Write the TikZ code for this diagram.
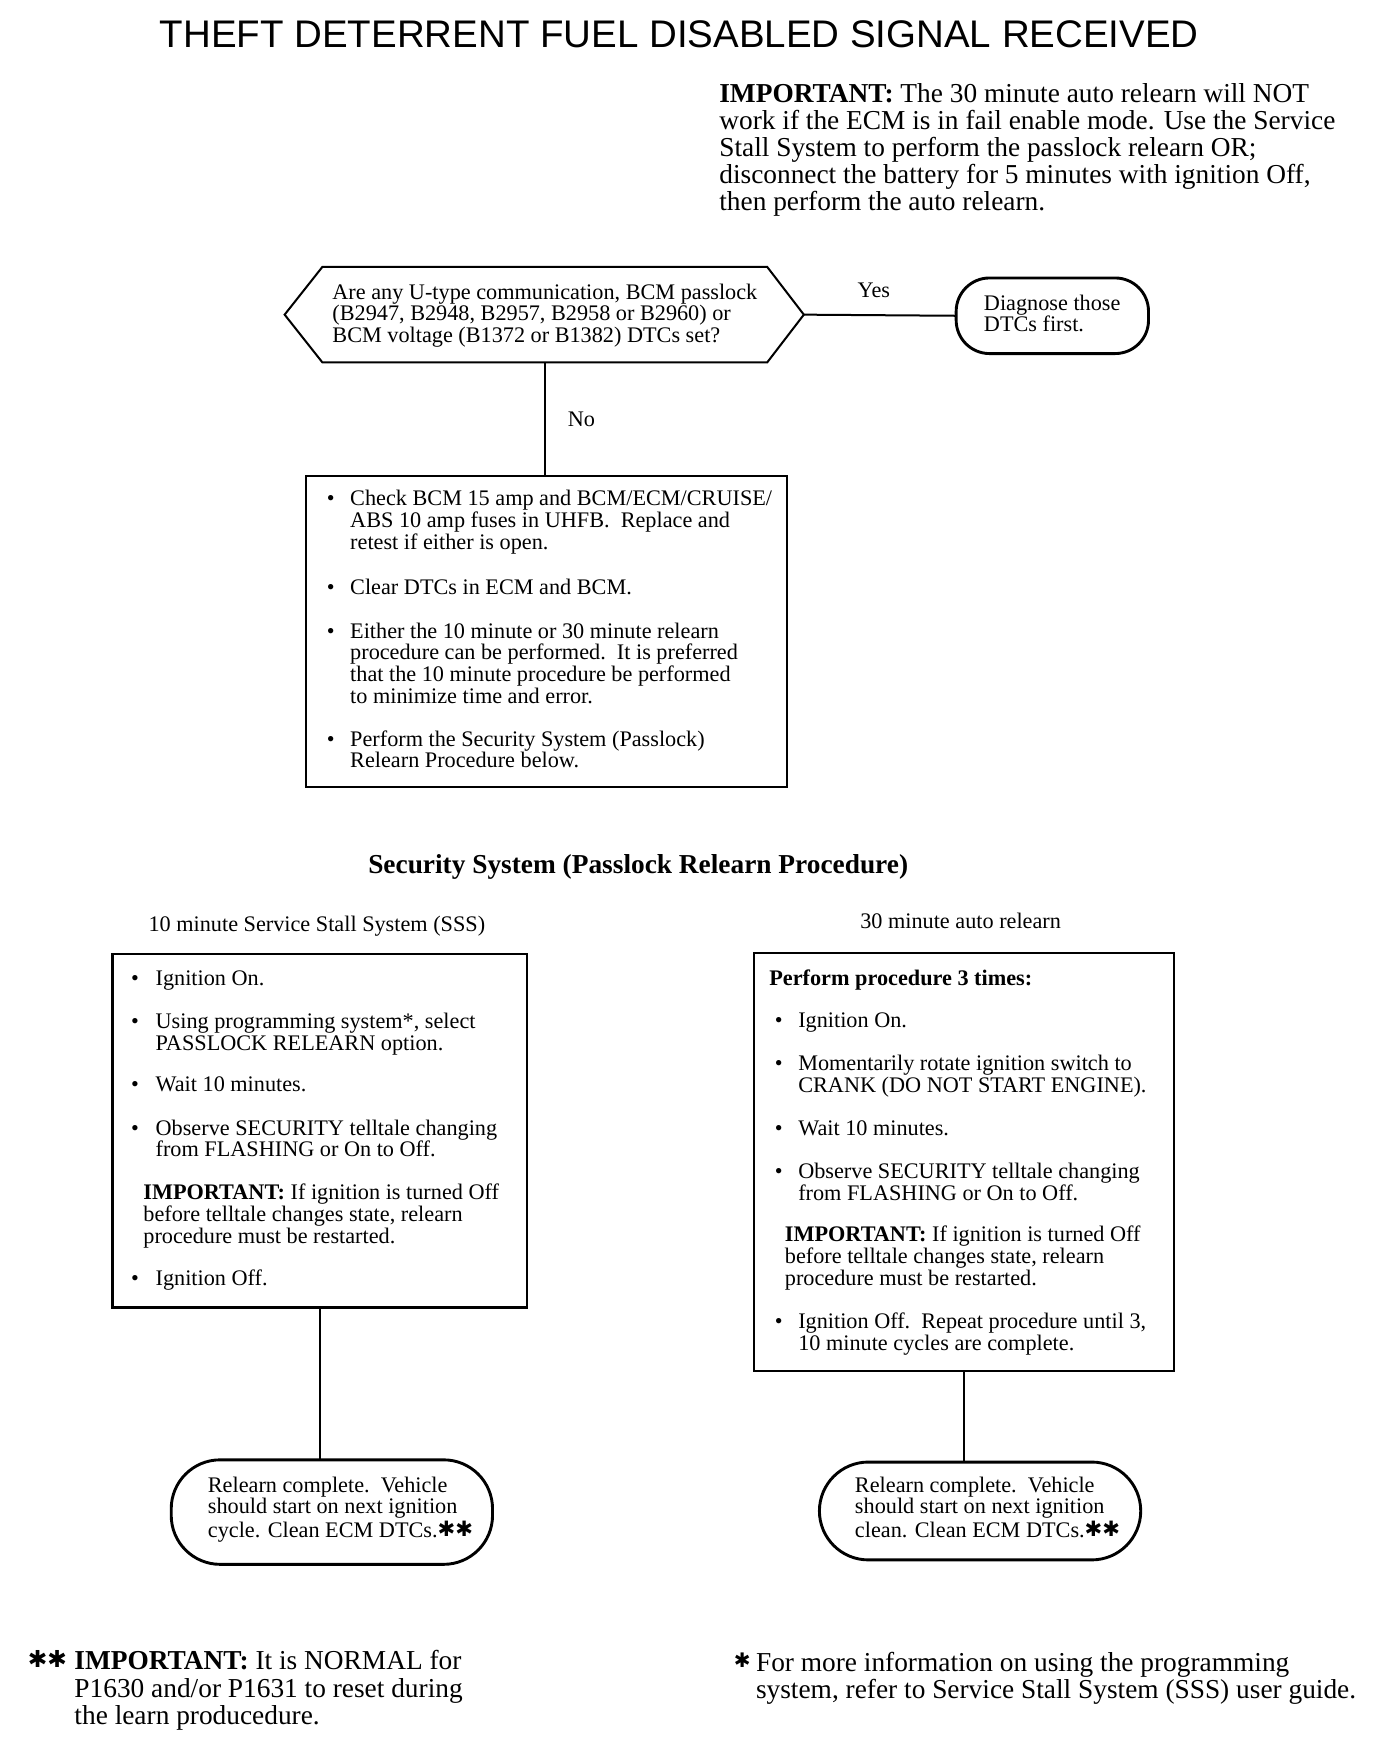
\documentclass[tikz,border=0pt]{standalone}
\usepackage{fontspec}
\setmainfont{Liberation Serif}
\newfontfamily\titlefont{Liberation Sans}
\newfontfamily\starfont{DejaVu Sans}
\newcommand\hvstars[2]{{\starfont\fontsize{#1}{#1}\selectfont\raisebox{#2}{✱✱}}}
\newcommand\hvstar[2]{{\starfont\fontsize{#1}{#1}\selectfont\raisebox{#2}{✱}}}
\newcommand\lns[1]{\vtop{#1}}
\newcommand\tl[1]{\hbox{#1}}
\begin{document}
\begin{tikzpicture}[x=0.5pt,y=-0.5pt,
  every node/.style={inner sep=0pt, outer sep=0pt},
  txt/.style={anchor=base west, font=\fontsize{10}{9.75}\selectfont},
  big/.style={anchor=base west, font=\fontsize{12.3}{12.2}\selectfont},
  boxst/.style={draw, line width=1.1pt, anchor=north west},
  ovalst/.style={draw, line width=1.3pt, anchor=north west, rounded corners=22pt},
  link/.style={line width=0.9pt},
  lbl/.style={anchor=base, font=\fontsize{10}{10}\selectfont}
]
\useasboundingbox (0,0) rectangle (1252,1565);
\fill[white] (0,0) rectangle (1252,1565);

% title
\node[anchor=base, font=\titlefont\fontsize{17.3}{18}\selectfont] (title) at (611,43) {THEFT DETERRENT FUEL DISABLED SIGNAL RECEIVED};

% top note
\node[big] (imp) at (647,92) {\lns{\tl{\textbf{IMPORTANT:} The 30 minute auto relearn will NOT}\tl{work if the ECM is in fail enable mode. Use the Service}\tl{Stall System to perform the passlock relearn OR;}\tl{disconnect the battery for 5 minutes with ignition Off,}\tl{then perform the auto relearn.}}};

% decision
\node[minimum width=200pt, minimum height=43pt, anchor=north west] (q) at (290,240) {};
\coordinate (qL) at (256,283);
\coordinate (qR) at (723,283);
\draw[line width=0.9pt] (q.north west) -- (q.north east) -- (qR) -- (q.south east) -- (q.south west) -- (qL) -- cycle;
\node[txt] (qt) at (299,269) {\lns{\tl{Are any U-type communication, BCM passlock}\tl{(B2947, B2948, B2957, B2958 or B2960) or}\tl{BCM voltage (B1372 or B1382) DTCs set?}}};

% diagnose
\node[draw, line width=1.3pt, rounded corners=15pt, minimum width=86.5pt, minimum height=34pt, anchor=north west] (diag) at (860,250) {};
\node[txt] (diagt) at (885,279) {\lns{\tl{Diagnose those}\tl{DTCs first.}}};
\draw[link] (qR) -- (diag.west);
\node[lbl] (yes) at (786,268) {Yes};

% box 1
\node[boxst, minimum width=216.5pt, minimum height=140pt] (b1) at (275,428) {};
\draw[link] (q.south) -- (q.south |- b1.north);
\node[lbl] (no) at (523,384) {No};
\node[txt] (b1p1) at (294,455) {•};
\node[txt] (b1t1) at (315,455) {\lns{\tl{Check BCM 15 amp and BCM/ECM/CRUISE/}\tl{ABS 10 amp fuses in UHFB.\ \ Replace and}\tl{retest if either is open.}}};
\node[txt] (b1p2) at (294,535) {•};
\node[txt] (b1t2) at (315,535) {Clear DTCs in ECM and BCM.};
\node[txt] (b1p3) at (294,574) {•};
\node[txt] (b1t3) at (315,574) {\lns{\tl{Either the 10 minute or 30 minute relearn}\tl{procedure can be performed.\ \ It is preferred}\tl{that the 10 minute procedure be performed}\tl{to minimize time and error.}}};
\node[txt] (b1p4) at (294,671) {•};
\node[txt] (b1t4) at (315,671) {\lns{\tl{Perform the Security System (Passlock)}\tl{Relearn Procedure below.}}};

% section heading
\node[anchor=base, font=\bfseries\fontsize{12.3}{12.3}\selectfont] (sec) at (574,786) {Security System (Passlock Relearn Procedure)};
\node[lbl] (h10) at (285,838) {10 minute Service Stall System (SSS)};
\node[lbl] (h30) at (864,835) {30 minute auto relearn};

% left box
\node[boxst, minimum width=186.5pt, minimum height=159pt] (lb) at (101,858) {};
\node[txt] (lp1) at (118,886) {•};
\node[txt] (lt1) at (140,886) {Ignition On.};
\node[txt] (lp2) at (118,925) {•};
\node[txt] (lt2) at (140,925) {\lns{\tl{Using programming system*, select}\tl{PASSLOCK RELEARN option.}}};
\node[txt] (lp3) at (118,982) {•};
\node[txt] (lt3) at (140,982) {Wait 10 minutes.};
\node[txt] (lp4) at (118,1021) {•};
\node[txt] (lt4) at (140,1021) {\lns{\tl{Observe SECURITY telltale changing}\tl{from FLASHING or On to Off.}}};
\node[txt] (limp) at (129,1079) {\lns{\tl{\textbf{IMPORTANT:} If ignition is turned Off}\tl{before telltale changes state, relearn}\tl{procedure must be restarted.}}};
\node[txt] (lp5) at (118,1156) {•};
\node[txt] (lt5) at (140,1156) {Ignition Off.};

% left oval
\node[ovalst, minimum width=144.5pt, minimum height=47pt] (lov) at (154,1313) {};
\draw[link] (lb.south) -- (lb.south |- lov.north);
\node[txt] (lovt) at (187,1342) {\lns{\tl{Relearn complete.\ \ Vehicle}\tl{should start on next ignition}\tl{cycle. Clean ECM DTCs.\hvstars{9.5}{0.8pt}}}};

% right box
\node[boxst, minimum width=189pt, minimum height=188pt] (rb) at (678,857) {};
\node[txt] (rh) at (692,886) {\textbf{Perform procedure 3 times:}};
\node[txt] (rp1) at (697,924) {•};
\node[txt] (rt1) at (718,924) {Ignition On.};
\node[txt] (rp2) at (697,963) {•};
\node[txt] (rt2) at (718,963) {\lns{\tl{Momentarily rotate ignition switch to}\tl{CRANK (DO NOT START ENGINE).}}};
\node[txt] (rp3) at (697,1021) {•};
\node[txt] (rt3) at (718,1021) {Wait 10 minutes.};
\node[txt] (rp4) at (697,1060) {•};
\node[txt] (rt4) at (718,1060) {\lns{\tl{Observe SECURITY telltale changing}\tl{from FLASHING or On to Off.}}};
\node[txt] (rimp) at (706,1117) {\lns{\tl{\textbf{IMPORTANT:} If ignition is turned Off}\tl{before telltale changes state, relearn}\tl{procedure must be restarted.}}};
\node[txt] (rp5) at (697,1195) {•};
\node[txt] (rt5) at (718,1195) {\lns{\tl{Ignition Off.\ \ Repeat procedure until 3,}\tl{10 minute cycles are complete.}}};

% right oval
\node[ovalst, minimum width=144.5pt, minimum height=44pt] (rov) at (737,1315) {};
\draw[link] (rb.south) -- (rb.south |- rov.north);
\node[txt] (rovt) at (769,1342) {\lns{\tl{Relearn complete.\ \ Vehicle}\tl{should start on next ignition}\tl{clean. Clean ECM DTCs.\hvstars{9.5}{0.8pt}}}};

% footnotes
\node[big] (fn1s) at (25,1502) {\hvstars{10.5}{1.2pt}};
\node[big] (fn1) at (67,1502) {\lns{\tl{\textbf{IMPORTANT:} It is NORMAL for}\tl{P1630 and/or P1631 to reset during}\tl{the learn producedure.}}};
\node[big] (fn2s) at (660,1503) {\hvstar{9}{1.5pt}};
\node[big] (fn2) at (680,1503) {\lns{\tl{For more information on using the programming}\tl{system, refer to Service Stall System (SSS) user guide.}}};
\end{tikzpicture}
\end{document}
